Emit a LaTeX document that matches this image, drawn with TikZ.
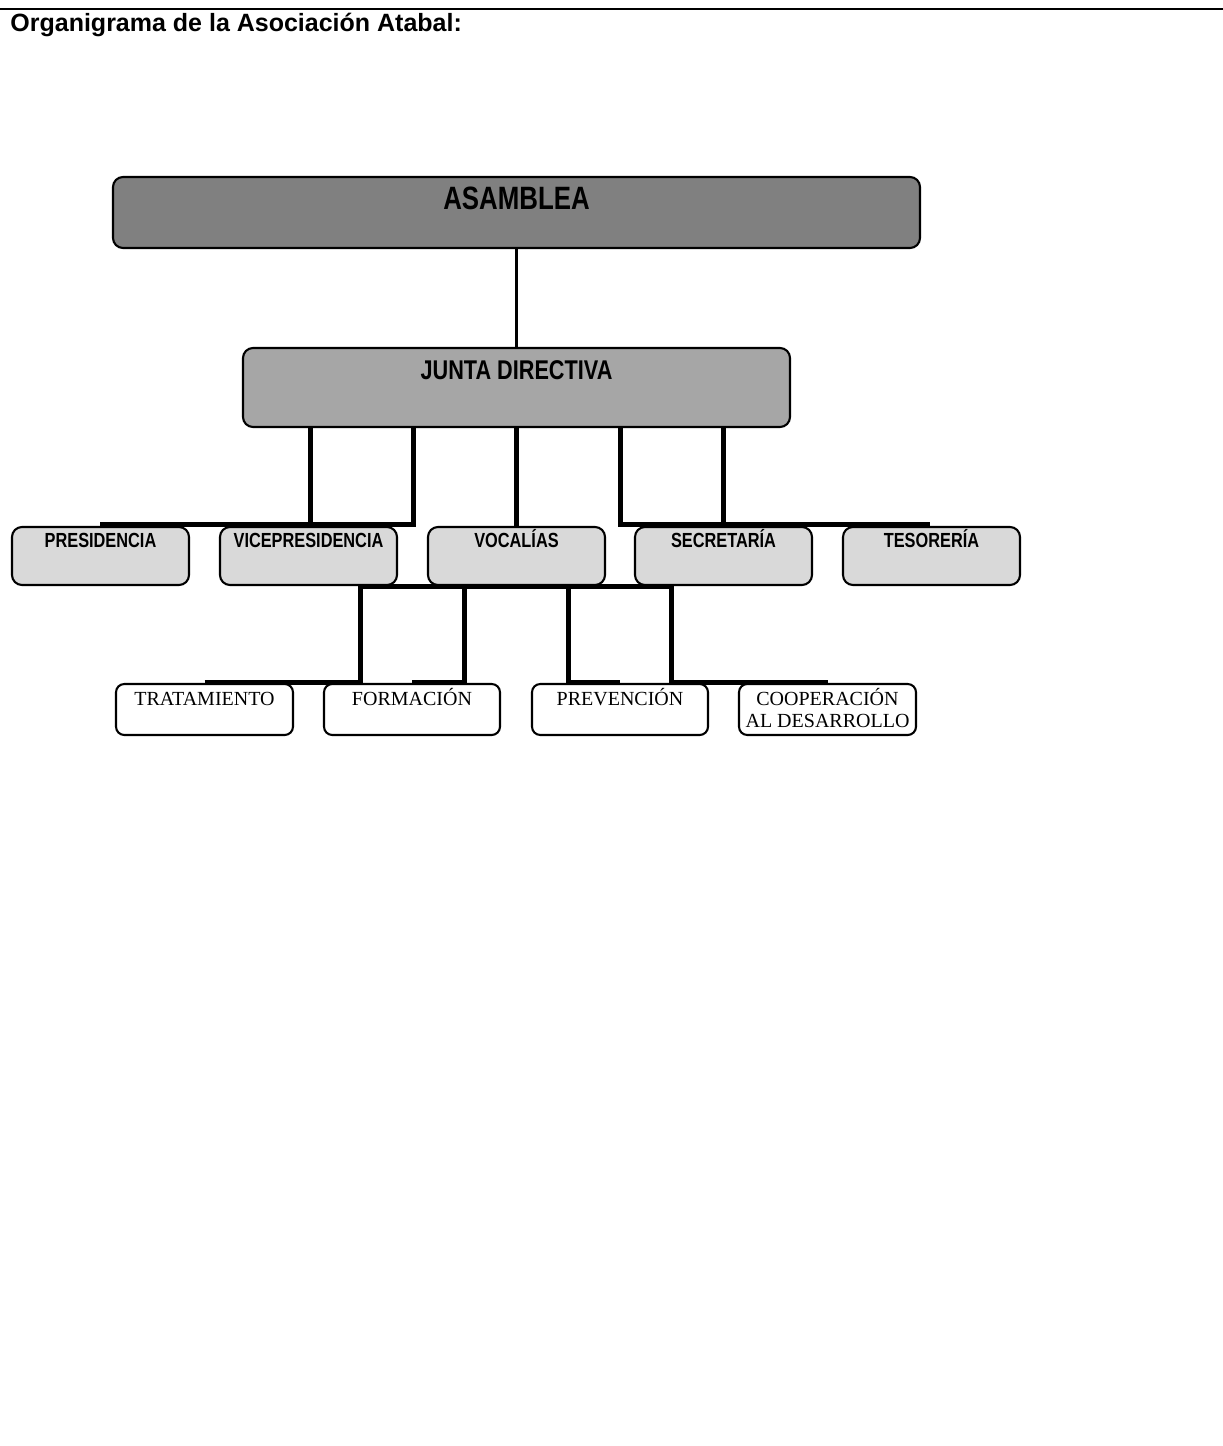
\documentclass[tikz,border=0pt]{standalone}
\usepackage{fontspec}
\setmainfont{Liberation Serif}
\newfontfamily\arialf{Liberation Sans}
\newfontfamily\narrowf{Liberation Sans}[FakeStretch=0.8]
\usetikzlibrary{fit,backgrounds}
\definecolor{asmgray}{RGB}{128,128,128}
\definecolor{jdgray}{RGB}{166,166,166}
\definecolor{lvgray}{RGB}{217,217,217}
\begin{document}
\begin{tikzpicture}[x=0.48pt,y=-0.48pt,
  box/.style={draw=black, line width=1pt, rounded corners=4.8pt, inner sep=0pt},
  asmbox/.style={box, fill=asmgray},
  jdbox/.style={box, fill=jdgray},
  lvbox/.style={box, fill=lvgray},
  wbox/.style={box, fill=white, rounded corners=4pt},
  titletxt/.style={font=\arialf\bfseries\fontsize{12}{14}\selectfont, anchor=west, inner sep=0pt, text height=8.6pt, text depth=0pt},
  asmtxt/.style={font=\narrowf\bfseries\fontsize{15.5}{18}\selectfont, inner sep=0pt, text height=11.1pt, text depth=0pt},
  jdtxt/.style={font=\narrowf\bfseries\fontsize{13}{15}\selectfont, inner sep=0pt, text height=9.3pt, text depth=0pt},
  lvtxt/.style={font=\narrowf\bfseries\fontsize{9.8}{12}\selectfont, inner sep=0pt, text height=7.0pt, text depth=0pt},
  wtxt/.style={font=\fontsize{9.6}{10.6}\selectfont, inner sep=0pt, text height=6.3pt, text depth=0pt},
  conn/.style={line width=2.4pt, line join=miter, draw=black},
  thinconn/.style={line width=1.6pt, draw=black}
]
\useasboundingbox (0,0) rectangle (1223,1446);

% top rule and title
\draw[line width=1.4pt] (0,9) -- (1223,9);
\node[titletxt] (title) at (10,22.5) {Organigrama de la Asociación Atabal:};

% level 1 and 2
\node[asmbox, fit={(113,177)(920,248)}] (asm) {};
\node[asmtxt] (asmT) at (516.5,198) {ASAMBLEA};
\node[jdbox, fit={(243,348)(790,427)}] (jd) {};
\node[jdtxt] (jdT) at (516.5,369.5) {JUNTA DIRECTIVA};

% level 3
\node[lvbox, fit={(12,527)(189,585)}] (pres) {};
\node[lvbox, fit={(220,527)(397,585)}] (vice) {};
\node[lvbox, fit={(428,527)(605,585)}] (voc) {};
\node[lvbox, fit={(635,527)(812,585)}] (sec) {};
\node[lvbox, fit={(843,527)(1020,585)}] (tes) {};
\node[lvtxt] (presT) at (100.5,540) {PRESIDENCIA};
\node[lvtxt] (viceT) at (308.5,540) {VICEPRESIDENCIA};
\node[lvtxt] (vocT) at (516.5,540) {VOCALÍAS};
\node[lvtxt] (secT) at (723.5,540) {SECRETARÍA};
\node[lvtxt] (tesT) at (931.5,540) {TESORERÍA};

% level 4
\node[wbox, fit={(116,684)(293,735)}] (trat) {};
\node[wbox, fit={(324,684)(500,735)}] (form) {};
\node[wbox, fit={(532,684)(708,735)}] (prev) {};
\node[wbox, fit={(739,684)(916,735)}] (coop) {};
\node[wtxt] (tratT) at (204.5,698.5) {TRATAMIENTO};
\node[wtxt] (formT) at (412,698.5) {FORMACIÓN};
\node[wtxt] (prevT) at (620,698.5) {PREVENCIÓN};
\node[wtxt] (coopT1) at (827.5,698.5) {COOPERACIÓN};
\node[wtxt] (coopT2) at (827.5,720.5) {AL DESARROLLO};

% junction points
\coordinate (j1) at (310,524);
\coordinate (j2) at (413,524);
\coordinate (j3) at (620,524);
\coordinate (j4) at (723,524);
\coordinate (pl) at (100,524);
\coordinate (tr) at (930,524);
\coordinate (h1) at (360,586);
\coordinate (h2) at (464,586);
\coordinate (h3) at (568,586);
\coordinate (h4) at (671,586);
\coordinate (k1) at (360,682);
\coordinate (k2) at (464,682);
\coordinate (k3) at (568,682);
\coordinate (k4) at (671,682);

\begin{scope}[on background layer]
\draw[thinconn] (asm.south) -- (jd.north);
\draw[conn] (pl) -- (j2) -- (jd.south -| j2);
\draw[conn] (jd.south -| j1) -- (j1);
\draw[conn] (jd.south) -- (voc.north);
\draw[conn] (tr) -- (j3) -- (jd.south -| j3);
\draw[conn] (jd.south -| j4) -- (j4);
\draw[conn] (k1 -| trat.north) -- (k1) -- (h1) -- (h4) -- (k4) -- (k4 -| coop.north);
\draw[conn] (h2) -- (k2) -- (k2 -| form.north);
\draw[conn] (h3) -- (k3) -- (k3 -| prev.north);
\end{scope}
\end{tikzpicture}
\end{document}
